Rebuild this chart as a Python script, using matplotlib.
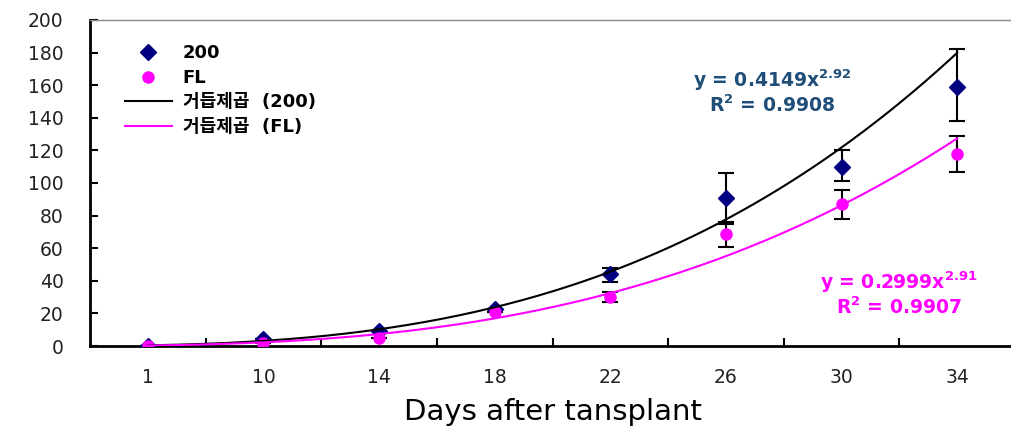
import numpy as np
import matplotlib
matplotlib.use("Agg")
import matplotlib.pyplot as plt

plt.rcParams['font.family'] = ['DejaVu Sans', 'Noto Sans CJK KR']

days = ['1', '10', '14', '18', '22', '26', '30', '34']
v200 = [0, 4, 9, 23, 44, 91, 110, 159]
err200_hi = [0, 0, 0, 0, 4, 15, 10, 23]
err200_lo = [0, 0, 0, 0, 5, 15, 9, 21]
vfl = [0, 2, 5, 21, 30, 69, 87, 118]
errfl_hi = [0, 0, 0, 0, 3, 6, 9, 11]
errfl_lo = [0, 0, 0, 0, 3, 8, 9, 11]

# power trendlines as printed on the chart (a * x^b, x = category index)
fit200 = (0.4149, 2.92)
fitfl = (0.2999, 2.91)
r2_200 = 0.9908
r2_fl = 0.9907

navy = '#000080'
mag = '#ff00ff'

fig = plt.figure(figsize=(10.12, 4.26), dpi=100)
ax = fig.add_axes([90/1012, 1 - 346/426, (1015 - 90)/1012, (346 - 20)/426])

xs = np.arange(1, len(days) + 1)
xx = np.linspace(1, len(days), 200)

ax.errorbar(xs, v200, yerr=[err200_lo, err200_hi], fmt='none', ecolor='black',
            elinewidth=1.5, capsize=6, capthick=1.5, zorder=2)
ax.errorbar(xs, vfl, yerr=[errfl_lo, errfl_hi], fmt='none', ecolor='black',
            elinewidth=1.5, capsize=6, capthick=1.5, zorder=2)
ax.plot(xs, v200, 'D', color=navy, markersize=8, label='200', zorder=3)
ax.plot(xs, vfl, 'o', color=mag, markersize=8, label='FL', zorder=3)
ax.plot(xx, fit200[0] * xx ** fit200[1], color='black', lw=1.5,
        label='거듭제곱  (200)', zorder=4)
ax.plot(xx, fitfl[0] * xx ** fitfl[1], color=mag, lw=1.5,
        label='거듭제곱  (FL)', zorder=4)

ax.set_xlim(0.5, len(days) + 0.5)
ax.set_ylim(0, 200)
ax.set_yticks(range(0, 201, 20))
ax.set_xticks(xs)
ax.set_xticklabels(days)
ax.set_xticks(np.arange(1.5, len(days), 1), minor=True)
ax.tick_params(axis='x', which='major', length=0, pad=16, labelsize=13.5)
ax.tick_params(axis='x', which='minor', direction='in', length=6, width=1.5)
ax.tick_params(axis='y', direction='in', length=6, width=1.5, labelsize=13.5, pad=19)
for t in ax.get_xticklabels() + ax.get_yticklabels():
    t.set_color('#222222')

ax.spines['left'].set_linewidth(2)
ax.spines['bottom'].set_linewidth(2)
ax.spines['top'].set_color('#888888')
ax.spines['top'].set_linewidth(1)
ax.spines['right'].set_visible(False)

ax.set_xlabel('Days after tansplant', fontsize=21, labelpad=8)

ax.text(6.4, 156, f'y = {fit200[0]}x$^{{\\mathbf{{{fit200[1]}}}}}$\nR$^{{\\mathbf{{2}}}}$ = {r2_200}',
        color='#1f4e79', fontsize=13.5, fontweight='bold', ha='center', va='center',
        linespacing=1.1)
ax.text(7.5, 32, f'y = {fitfl[0]}x$^{{\\mathbf{{{fitfl[1]}}}}}$\nR$^{{\\mathbf{{2}}}}$ = {r2_fl}',
        color=mag, fontsize=13.5, fontweight='bold', ha='center', va='center',
        linespacing=1.1)

leg = ax.legend(loc='upper left', bbox_to_anchor=(0.02, 0.975), frameon=False,
                handlelength=2.6, handletextpad=0.6, labelspacing=0.36,
                prop={'family': ['DejaVu Sans', 'Noto Sans CJK KR'], 'weight': 'bold', 'size': 13})

fig.savefig('out.png', dpi=100)
